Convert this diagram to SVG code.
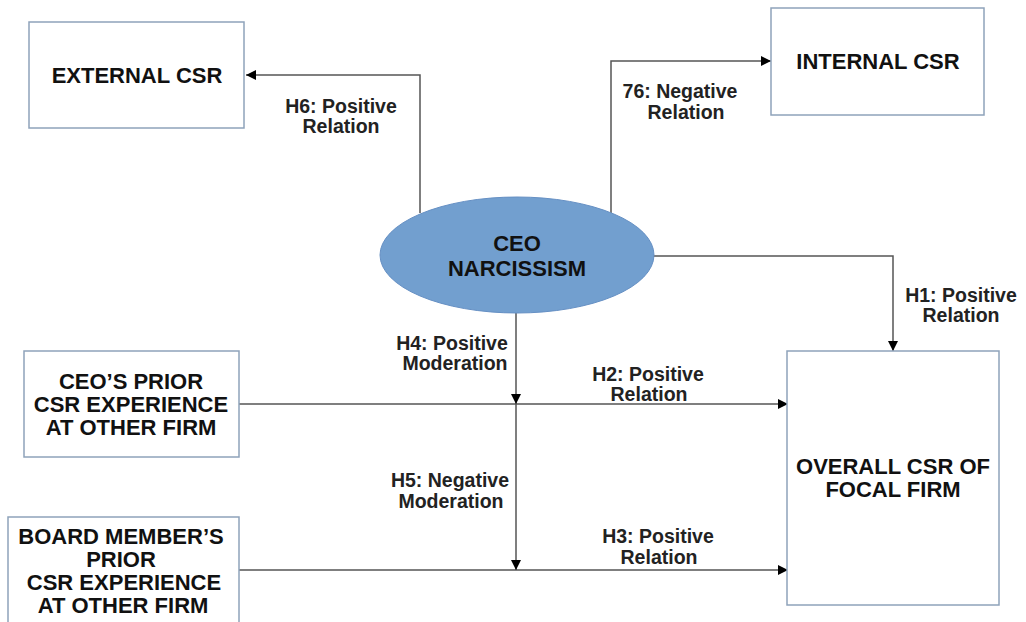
<svg xmlns="http://www.w3.org/2000/svg" width="1026" height="622" viewBox="0 0 1026 622">
<defs>
<marker id="ah" viewBox="0 0 10 10" refX="10" refY="5" markerWidth="11" markerHeight="10" markerUnits="userSpaceOnUse" orient="auto">
<path d="M0,0 L10,5 L0,10 Z" fill="#000"/>
</marker>
<style>
.box{fill:#fff;stroke:#8ea3ba;stroke-width:1.5}
.nt{font-family:"Liberation Sans",Arial,sans-serif;font-weight:bold;font-size:22px;fill:#111;text-anchor:middle}
.lb{font-family:"Liberation Sans",Arial,sans-serif;font-weight:bold;font-size:19.5px;fill:#222;text-anchor:middle}
.ln{fill:none;stroke:#555;stroke-width:1.5}
</style>
</defs>
<rect width="1026" height="622" fill="#fff"/>
<g id="connectors">
<polyline class="ln" points="420,213 420,75 246,75" marker-end="url(#ah)"/>
<polyline class="ln" points="611,213 611,61 771,61" marker-end="url(#ah)"/>
<polyline class="ln" points="652,256 893,256 893,351" marker-end="url(#ah)"/>
<line class="ln" x1="239" y1="404" x2="788" y2="404" marker-end="url(#ah)"/>
<line class="ln" x1="239" y1="570" x2="788" y2="570" marker-end="url(#ah)"/>
<line class="ln" x1="516" y1="313" x2="516" y2="404" marker-end="url(#ah)"/>
<line class="ln" x1="516" y1="404" x2="516" y2="570" marker-end="url(#ah)"/>
<text class="lb" x="341" y="113">H6: Positive</text>
<text class="lb" x="341" y="133">Relation</text>
<text class="lb" x="680" y="98">76: Negative</text>
<text class="lb" x="686" y="119">Relation</text>
<text class="lb" x="961" y="302">H1: Positive</text>
<text class="lb" x="961" y="322">Relation</text>
<text class="lb" x="452" y="350">H4: Positive</text>
<text class="lb" x="455" y="370">Moderation</text>
<text class="lb" x="648" y="381">H2: Positive</text>
<text class="lb" x="649" y="401">Relation</text>
<text class="lb" x="450" y="487">H5: Negative</text>
<text class="lb" x="451" y="508">Moderation</text>
<text class="lb" x="658" y="543">H3: Positive</text>
<text class="lb" x="659" y="564">Relation</text>
</g>
<g id="external-csr">
<rect class="box" x="29" y="22" width="215" height="106"/>
<text class="nt" x="137" y="83">EXTERNAL CSR</text>
</g>
<g id="internal-csr">
<rect class="box" x="771" y="8" width="213" height="107"/>
<text class="nt" x="878" y="69">INTERNAL CSR</text>
</g>
<g id="ceo-narcissism">
<ellipse cx="517" cy="255" rx="137" ry="58" fill="#729fcf" stroke="#6690c4" stroke-width="1"/>
<text class="nt" x="517" y="251">CEO</text>
<text class="nt" x="517" y="276">NARCISSISM</text>
</g>
<g id="ceo-prior">
<rect class="box" x="24" y="351" width="215" height="106"/>
<text class="nt" x="131" y="389">CEO’S PRIOR</text>
<text class="nt" x="131" y="412">CSR EXPERIENCE</text>
<text class="nt" x="131" y="435">AT OTHER FIRM</text>
</g>
<g id="board-prior">
<rect class="box" x="8" y="517" width="231" height="110"/>
<text class="nt" x="121" y="544">BOARD MEMBER’S</text>
<text class="nt" x="121" y="567">PRIOR</text>
<text class="nt" x="124" y="590">CSR EXPERIENCE</text>
<text class="nt" x="123" y="613">AT OTHER FIRM</text>
</g>
<g id="overall-csr">
<rect class="box" x="787" y="351" width="212" height="254"/>
<text class="nt" x="893" y="474">OVERALL CSR OF</text>
<text class="nt" x="893" y="497">FOCAL FIRM</text>
</g>
</svg>
